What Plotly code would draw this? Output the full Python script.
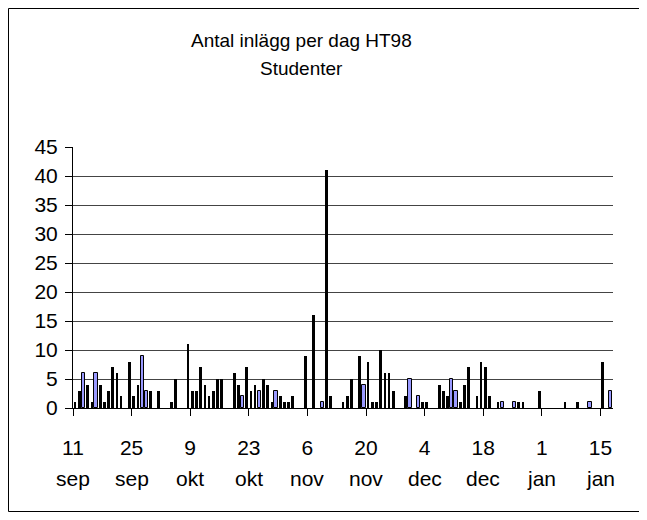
import datetime as dt
import plotly.graph_objects as go

# ---- data -------------------------------------------------------------
start_date = dt.date(1998, 9, 11)
n_days = 129

# day offset (from 11 sep 1998) -> posts
black_days = [0, 1, 3, 4, 6, 7, 8, 9, 10, 11, 13, 14, 15, 18, 20, 23, 24, 27, 28, 29,
              30, 31, 32, 33, 34, 35, 38, 39, 41, 42, 43, 45, 46, 47, 49, 50, 51, 52,
              55, 57, 60, 61, 64, 65, 66, 68, 70, 71, 72, 73, 74, 75, 76, 79, 83, 84,
              87, 88, 89, 92, 93, 94, 96, 97, 98, 99, 101, 106, 107, 111, 117, 120, 126]
black_vals = [1, 3, 4, 1, 4, 1, 3, 7, 6, 2, 8, 2, 4, 3, 3, 1, 5, 11, 3, 3,
              7, 4, 2, 3, 5, 5, 6, 4, 7, 3, 4, 5, 4, 1, 2, 1, 1, 2,
              9, 16, 41, 2, 1, 2, 5, 9, 8, 1, 1, 10, 6, 6, 3, 2, 1, 1,
              4, 3, 2, 1, 4, 7, 2, 8, 7, 2, 1, 1, 1, 3, 1, 1, 8]
blue_days = [2, 5, 16, 17, 40, 44, 48, 59, 69, 80, 82, 90, 91, 102, 105, 123, 128]
blue_vals = [6, 6, 9, 3, 2, 3, 3, 1, 4, 5, 2, 5, 3, 1, 1, 1, 3]

tick_days = [0, 14, 28, 42, 56, 70, 84, 98, 112, 126]
tick_nums = ["11", "25", "9", "23", "6", "20", "4", "18", "1", "15"]
tick_months = ["sep", "sep", "okt", "okt", "nov", "nov", "dec", "dec", "jan", "jan"]

title_line1 = "Antal inlägg per dag HT98"
title_line2 = "Studenter"

# ---- helpers ----------------------------------------------------------
def day(d):
    return (start_date + dt.timedelta(days=d)).isoformat()

FONT = "Liberation Sans Narrow, Arial Narrow, Liberation Sans, Arial, sans-serif"
DAY_MS = 86400000

# the page body adds an 8px offset; work in page pixels and convert
OFF = 8
W, H = 647 - OFF, 520 - OFF
PLOT_LEFT, PLOT_RIGHT, PLOT_TOP, PLOT_BOTTOM = 73, 613, 147, 408  # page px
L = PLOT_LEFT - OFF
R = W - (PLOT_RIGHT - OFF)
T = PLOT_TOP - OFF
B = H - (PLOT_BOTTOM - OFF)
pw, ph = W - L - R, H - T - B

def px_x(px):
    return (px - OFF - L) / pw

def px_y(py):
    return (H - B - (py - OFF)) / ph

fig = go.Figure()
fig.add_trace(go.Bar(
    x=[day(d) for d in black_days], y=black_vals,
    xperiod=DAY_MS, xperiodalignment="middle",
    width=0.64 * DAY_MS,
    marker=dict(color="black", line=dict(color="black", width=0)),
    showlegend=False, hoverinfo="x+y",
))
fig.add_trace(go.Bar(
    x=[day(d) for d in blue_days], y=blue_vals,
    xperiod=DAY_MS, xperiodalignment="middle",
    width=0.75 * DAY_MS,
    marker=dict(color="#9999FF", line=dict(color="black", width=1)),
    showlegend=False, hoverinfo="x+y",
))

fig.update_layout(
    width=W, height=H,
    margin=dict(l=L, r=R, t=T, b=B, pad=0),
    paper_bgcolor="white", plot_bgcolor="white",
    barmode="overlay", bargap=0,
    font=dict(family=FONT, size=21, color="black"),
    xaxis=dict(
        type="date",
        range=[day(0), day(n_days)],
        tickvals=[day(d) for d in tick_days],
        ticktext=tick_nums,
        ticks="outside", ticklen=7, tickcolor="black", tickwidth=1,
        showline=True, linecolor="black", linewidth=1,
        showgrid=False, zeroline=False,
        tickfont=dict(family=FONT, size=21),
        ticklabelstandoff=14,
    ),
    yaxis=dict(
        range=[0, 45],
        tickvals=list(range(0, 46, 5)),
        ticks="outside", ticklen=7, tickcolor="black", tickwidth=1,
        showline=True, linecolor="black", linewidth=1,
        showgrid=True, gridcolor="#444444", gridwidth=1,
        zeroline=False,
        tickfont=dict(family=FONT, size=21),
        ticklabelstandoff=3,
    ),
    shapes=[dict(
        type="rect", xref="paper", yref="paper",
        x0=px_x(8.5), x1=px_x(639.5), y0=px_y(511.5), y1=px_y(8.5),
        line=dict(color="black", width=1), fillcolor="rgba(0,0,0,0)",
        layer="below",
    )],
)

annotations = [
    dict(text=title_line1, x=px_x(301), y=px_y(41), xref="paper", yref="paper",
         showarrow=False, xanchor="center", yanchor="middle",
         font=dict(family=FONT, size=19)),
    dict(text=title_line2, x=px_x(301), y=px_y(68), xref="paper", yref="paper",
         showarrow=False, xanchor="center", yanchor="middle",
         font=dict(family=FONT, size=19)),
]
for d, m in zip(tick_days, tick_months):
    annotations.append(dict(
        text=m, x=day(d), y=px_y(478), xref="x", yref="paper",
        showarrow=False, xanchor="center", yanchor="middle",
        font=dict(family=FONT, size=21),
    ))
fig.update_layout(annotations=annotations)

fig.write_html("out.html")
